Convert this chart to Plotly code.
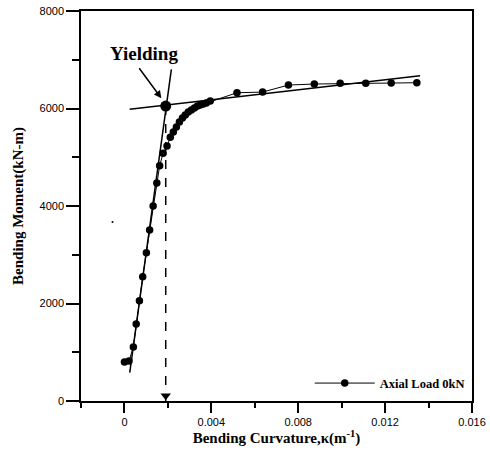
import plotly.graph_objects as go

# Moment-curvature data (Axial Load 0kN)
curvature = [0.0, 0.00021, 0.00041, 0.00054, 0.00069, 0.00084, 0.00101, 0.00116,
             0.00132, 0.00149, 0.00162, 0.00178, 0.00196, 0.00211, 0.00225, 0.00239,
             0.00253, 0.00267, 0.00280, 0.00294, 0.00308, 0.00322, 0.00336, 0.00349,
             0.00363, 0.00377, 0.00395, 0.00518, 0.00636, 0.00755, 0.00874, 0.00993,
             0.01111, 0.01228, 0.01346]
moment = [800, 820, 1108, 1579, 2057, 2549, 3042, 3507,
          4000, 4471, 4826, 5080, 5230, 5408, 5517, 5620,
          5722, 5804, 5866, 5927, 5968, 6009, 6050, 6071,
          6091, 6112, 6153, 6323, 6337, 6481, 6502, 6516,
          6516, 6522, 6529]

# Bilinear fit lines
post_yield_x = [0.00024, 0.01361]
post_yield_y = [5984, 6673]
elastic_x = [0.000244, 0.00216]
elastic_y = [581, 6804]

# Yield point
yield_x = [0.00190]
yield_y = [6050]

# Stray scan dot
stray_x = [-0.00055]
stray_y = [3671]

x_ticks = [0, 0.004, 0.008, 0.012, 0.016]
x_labels = ["0", "0.004", "0.008", "0.012", "0.016"]
y_ticks = [0, 2000, 4000, 6000, 8000]
y_labels = ["0", "2000", "4000", "6000", "8000"]

serif = "Liberation Serif, Times New Roman, serif"
sans = "Liberation Sans, Arial, sans-serif"

fig = go.Figure()

fig.add_trace(go.Scatter(x=post_yield_x, y=post_yield_y, mode="lines",
                         line=dict(color="black", width=1.5), showlegend=False, hoverinfo="skip"))
fig.add_trace(go.Scatter(x=elastic_x, y=elastic_y, mode="lines",
                         line=dict(color="black", width=1.5), showlegend=False, hoverinfo="skip"))
fig.add_trace(go.Scatter(x=[yield_x[0], yield_x[0]], y=[yield_y[0], 0], mode="lines",
                         line=dict(color="black", width=1.5, dash="dash"), showlegend=False, hoverinfo="skip"))
fig.add_trace(go.Scatter(x=[yield_x[0]], y=[110], mode="markers", cliponaxis=False,
                         marker=dict(symbol="triangle-down", size=9, color="black"),
                         showlegend=False, hoverinfo="skip"))
fig.add_trace(go.Scatter(x=curvature, y=moment, mode="lines+markers", name="<b>Axial Load 0kN</b>",
                         line=dict(color="black", width=1),
                         marker=dict(color="black", size=7.5)))
fig.add_trace(go.Scatter(x=yield_x, y=yield_y, mode="markers",
                         marker=dict(color="black", size=11), showlegend=False))
fig.add_trace(go.Scatter(x=stray_x, y=stray_y, mode="markers",
                         marker=dict(color="black", size=2), showlegend=False))

fig.add_annotation(x=0.0017, y=6208, ax=0.00063, ay=6857, xref="x", yref="y",
                   axref="x", ayref="y", text="", showarrow=True,
                   arrowhead=2, arrowsize=1, arrowwidth=1.5, arrowcolor="black")
fig.add_annotation(x=0.00092, y=7137, xref="x", yref="y", text="<b>Yielding</b>",
                   showarrow=False, font=dict(family=serif, size=19, color="black"))

axis_common = dict(showline=True, linecolor="black", linewidth=1.5, mirror=True,
                   ticks="outside", tickcolor="black", tickwidth=1.5, showgrid=False,
                   zeroline=False, automargin=False, ticklabeloverflow="allow",
                   tickfont=dict(family=sans, size=11, color="black"))

fig.update_xaxes(range=[-0.002, 0.016], tickvals=x_ticks, ticktext=x_labels, ticklen=10,
                 minor=dict(dtick=0.002, tick0=0, ticks="outside", ticklen=5, tickcolor="black", tickwidth=1.5),
                 title=dict(text="<b>Bending Curvature,κ(m<sup>-1</sup>)</b>",
                            font=dict(family=serif, size=15, color="black"), standoff=6),
                 **axis_common)
fig.update_yaxes(range=[0, 8000], tickvals=y_ticks, ticktext=y_labels, ticklen=13,
                 minor=dict(dtick=1000, tick0=0, ticks="outside", ticklen=7, tickcolor="black", tickwidth=1.5),
                 title=dict(text="<b>Bending Moment(kN-m)</b>",
                            font=dict(family=serif, size=15, color="black"), standoff=12),
                 **axis_common)

fig.update_layout(width=490, height=456, margin=dict(l=81, r=18, t=11, b=55),
                  plot_bgcolor="white", paper_bgcolor="white",
                  legend=dict(x=0.585, y=0.045, xanchor="left", yanchor="middle",
                              bgcolor="rgba(0,0,0,0)", itemwidth=60,
                              font=dict(family=serif, size=12.5, color="black")),
                  showlegend=True)

# remove the default page margin so the 490x456 figure fills the window exactly
fig.write_html("out.html", config={"displayModeBar": False},
               post_script="document.body.style.margin='0';document.body.style.overflow='hidden';")
